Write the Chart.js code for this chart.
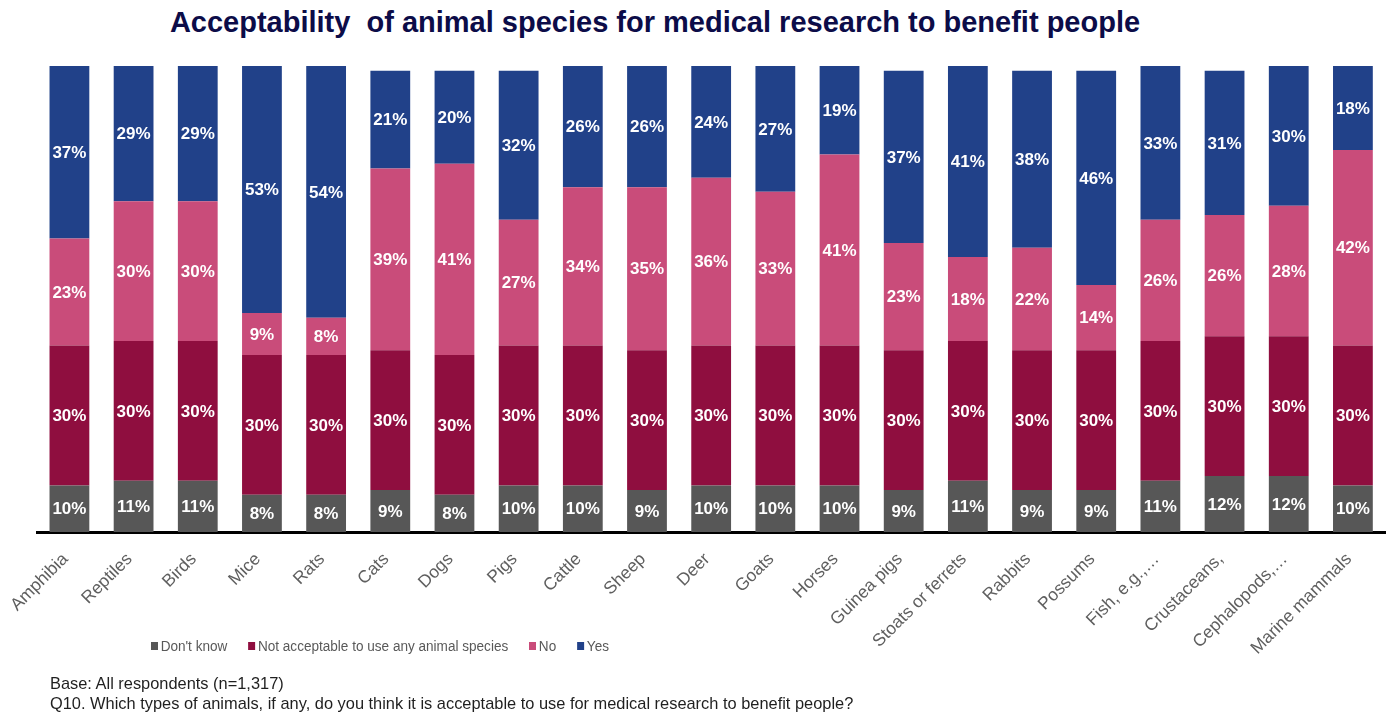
<!DOCTYPE html>
<html>
<head>
<meta charset="utf-8">
<script src="https://cdn.jsdelivr.net/npm/chart.js@4.4.1/dist/chart.umd.min.js"></script>
<style>
  html, body { margin: 0; padding: 0; background: #fff; }
  body { width: 1394px; height: 714px; position: relative; overflow: hidden;
         font-family: "Liberation Sans", Arial, sans-serif; }
  #chart { position: absolute; left: 0; top: 0; }
  .title { position: absolute; left: 0; top: 6px; width: 1310px; text-align: center;
           font-weight: bold; font-size: 29px; color: #0c0c48; white-space: nowrap; }
  #legend { position: absolute; left: 151px; top: 637px; display: flex; align-items: center;
            font-size: 15.5px; color: #595959; white-space: nowrap;
            transform: scaleX(0.875); transform-origin: 0 0; }
  #legend .item { display: flex; align-items: center; margin-right: 24px; }
  #legend .box { width: 8px; height: 8px; margin-right: 3px; }
  .note { position: absolute; left: 50px; font-size: 16.4px; color: #1f1f1f; white-space: nowrap; }
</style>
</head>
<body>
<div class="title">Acceptability&nbsp; of animal species for medical research to benefit people</div>
<canvas id="chart" width="1394" height="714"></canvas>
<div id="legend"></div>
<div class="note" style="top:674px">Base: All respondents (n=1,317)</div>
<div class="note" style="top:694px">Q10. Which types of animals, if any, do you think it is acceptable to use for medical research to benefit people?</div>
<script>
const animals = ['Amphibia', 'Reptiles', 'Birds', 'Mice', 'Rats', 'Cats', 'Dogs', 'Pigs', 'Cattle',
  'Sheep', 'Deer', 'Goats', 'Horses', 'Guinea pigs', 'Stoats or ferrets', 'Rabbits', 'Possums',
  'Fish, e.g.,…', 'Crustaceans,', 'Cephalopods,…', 'Marine mammals'];

const dontKnow      = [10, 11, 11, 8, 8, 9, 8, 10, 10, 9, 10, 10, 10, 9, 11, 9, 9, 11, 12, 12, 10];
const notAcceptable = [30, 30, 30, 30, 30, 30, 30, 30, 30, 30, 30, 30, 30, 30, 30, 30, 30, 30, 30, 30, 30];
const no            = [23, 30, 30, 9, 8, 39, 41, 27, 34, 35, 36, 33, 41, 23, 18, 22, 14, 26, 26, 28, 42];
const yes           = [37, 29, 29, 53, 54, 21, 20, 32, 26, 26, 24, 27, 19, 37, 41, 38, 46, 33, 31, 30, 18];

const FONT = '"Liberation Sans", Arial, sans-serif';

// white % labels in the middle of every segment
const segmentLabels = {
  id: 'segmentLabels',
  afterDatasetsDraw(chart) {
    const ctx = chart.ctx;
    ctx.save();
    ctx.font = 'bold 17px ' + FONT;
    ctx.fillStyle = '#ffffff';
    ctx.textAlign = 'center';
    ctx.textBaseline = 'middle';
    chart.data.datasets.forEach((ds, i) => {
      chart.getDatasetMeta(i).data.forEach((bar, j) => {
        const p = bar.getProps(['x', 'y', 'base'], true);
        ctx.fillText(ds.data[j] + '%', p.x, (p.y + p.base) / 2 + 1);
      });
    });
    ctx.restore();
  }
};

const chart = new Chart(document.getElementById('chart'), {
  type: 'bar',
  data: {
    labels: animals,
    datasets: [
      { label: "Don't know", data: dontKnow, backgroundColor: '#575757' },
      { label: 'Not acceptable to use any animal species', data: notAcceptable, backgroundColor: '#8f0e3f' },
      { label: 'No', data: no, backgroundColor: '#c94c7a' },
      { label: 'Yes', data: yes, backgroundColor: '#214189' }
    ]
  },
  options: {
    responsive: false,
    animation: false,
    barPercentage: 0.62,
    categoryPercentage: 1,
    layout: { padding: { top: 66, left: 35, right: 9, bottom: 0 } },
    plugins: {
      legend: { display: false },
      tooltip: { enabled: false }
    },
    scales: {
      x: {
        stacked: true,
        grid: { display: false, drawTicks: false },
        border: { display: true, color: '#000000', width: 3 },
        ticks: {
          autoSkip: false,
          minRotation: 45,
          maxRotation: 45,
          padding: 17,
          labelOffset: -4,
          color: '#5f5f5f',
          font: { family: FONT, size: 17.5 }
        },
        afterFit(scale) { scale.height = 182; }
      },
      y: {
        stacked: true,
        display: false,
        min: 0,
        max: 100
      }
    }
  },
  plugins: [segmentLabels]
});

// legend built from the datasets
const legendEl = document.getElementById('legend');
chart.data.datasets.forEach(ds => {
  const item = document.createElement('div');
  item.className = 'item';
  const box = document.createElement('span');
  box.className = 'box';
  box.style.background = ds.backgroundColor;
  const txt = document.createElement('span');
  txt.textContent = ds.label;
  item.appendChild(box);
  item.appendChild(txt);
  legendEl.appendChild(item);
});
</script>
</body>
</html>
